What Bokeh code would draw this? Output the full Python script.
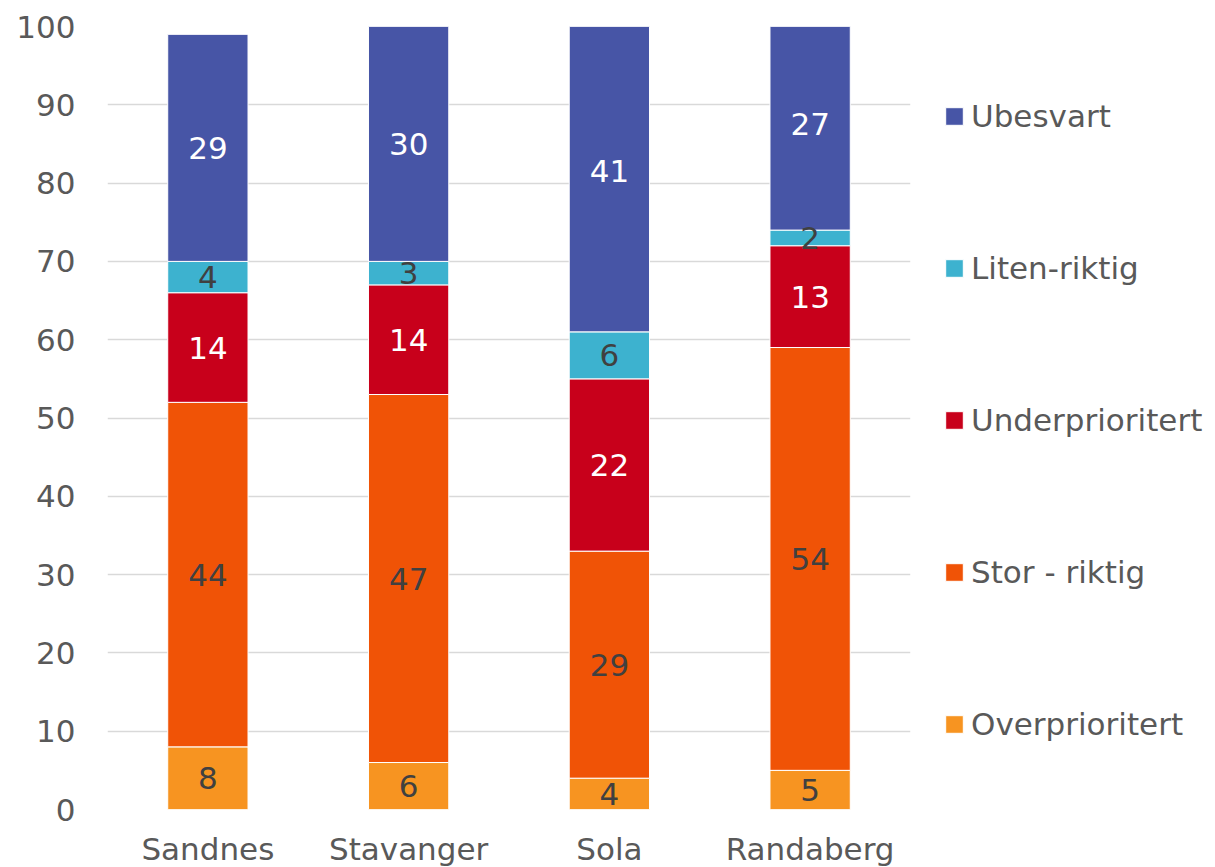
from bokeh.plotting import figure
from bokeh.models import ColumnDataSource, Legend, LegendItem, FactorRange, Range1d, FixedTicker
from bokeh.embed import file_html
from bokeh.resources import INLINE
from bokeh.core.properties import value

# ---- data ----
categories = ["Sandnes", "Stavanger", "Sola", "Randaberg"]
series_names = ["Overprioritert", "Stor - riktig", "Underprioritert", "Liten-riktig", "Ubesvart"]
overprioritert = [8, 6, 4, 5]
stor_riktig = [44, 47, 29, 54]
underprioritert = [14, 14, 22, 13]
liten_riktig = [4, 3, 6, 2]
ubesvart = [29, 30, 41, 27]
y_ticks = [0, 10, 20, 30, 40, 50, 60, 70, 80, 90, 100]

# ---- styles ----
colors = ["#F79421", "#F05306", "#C8001B", "#3DB2CF", "#4755A6"]
label_colors = ["#404040", "#404040", "#FFFFFF", "#404040", "#FFFFFF"]
FONT = "DejaVu Sans"
FS = "31px"
keys = ["s0", "s1", "s2", "s3", "s4"]
series_values = [overprioritert, stor_riktig, underprioritert, liten_riktig, ubesvart]

data = {"cat": categories}
for k, v in zip(keys, series_values):
    data[k] = v
source = ColumnDataSource(data)

p = figure(
    x_range=FactorRange(*categories),
    y_range=Range1d(0, 100),
    frame_width=803,
    frame_height=783,
    min_border_left=107,
    min_border_top=26,
    min_border_bottom=10,
    min_border_right=10,
    output_backend="svg",
    toolbar_location=None,
    background_fill_color="white",
    border_fill_color="white",
)
p.outline_line_color = None

renderers = p.vbar_stack(keys, x="cat", width=0.4, source=source,
                         fill_color=colors, line_color="white", line_width=1)

# value labels at segment centres
bottoms = [0] * len(categories)
for vals, tc in zip(series_values, label_colors):
    mids = [b + v / 2 for b, v in zip(bottoms, vals)]
    lsrc = ColumnDataSource(dict(x=categories, y=mids, t=[str(v) for v in vals]))
    p.text(x="x", y="y", text="t", source=lsrc, text_align="center",
           text_baseline="middle", text_color=tc, text_font=value(FONT),
           text_font_size=FS)
    bottoms = [b + v for b, v in zip(bottoms, vals)]

# axes & grid
p.yaxis.ticker = FixedTicker(ticks=y_ticks)
for ax in (p.xaxis, p.yaxis):
    ax.axis_line_color = None
    ax.major_tick_line_color = None
    ax.minor_tick_line_color = None
    ax.major_tick_out = 0
    ax.major_tick_in = 0
    ax.major_label_text_font = FONT
    ax.major_label_text_font_size = FS
    ax.major_label_text_color = "#595959"
p.yaxis.major_label_standoff = 32
p.xaxis.major_label_standoff = 21
p.xgrid.grid_line_color = None
p.ygrid.grid_line_color = "#D9D9D9"
p.ygrid.grid_line_width = 1.5

items = [LegendItem(label=n, renderers=[r]) for n, r in zip(series_names, renderers)]
items = items[::-1]
legend = Legend(items=items, location=(33, 67), orientation="vertical",
                label_text_font=FONT, label_text_font_size=FS,
                label_text_color="#595959", glyph_width=22, glyph_height=22,
                label_height=18, label_standoff=6, spacing=116,
                border_line_color=None, background_fill_alpha=0,
                margin=0, padding=0)
p.add_layout(legend, "right")

open("out.html", "w").write(file_html(p, INLINE))
